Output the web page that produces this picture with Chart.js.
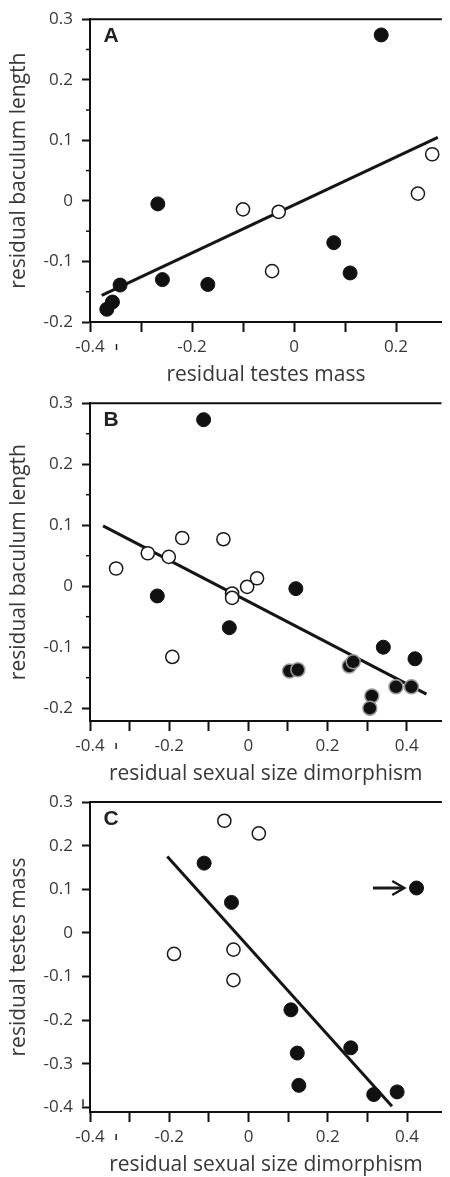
<!DOCTYPE html>
<html><head><meta charset="utf-8">
<script src="https://cdn.jsdelivr.net/npm/chart.js@4.4.1/dist/chart.umd.min.js"></script>
<style>
html,body{margin:0;padding:0;background:#fff;width:450px;height:1177px;overflow:hidden;position:relative}
.c{position:absolute;left:0;width:450px}
</style></head><body>
<div class="c" style="top:0px;height:386px"><canvas id="pa"></canvas></div>
<div class="c" style="top:384px;height:401px"><canvas id="pb"></canvas></div>
<div class="c" style="top:780px;height:396px"><canvas id="pc"></canvas></div>
<script>
// ---------- Panel A ----------
const filledA_x = [0.171, -0.267, -0.341, -0.356, -0.367, -0.258, -0.169, 0.078, 0.110];
const filledA_y = [0.274, -0.005, -0.139, -0.167, -0.179, -0.130, -0.138, -0.069, -0.119];
const openA_x = [-0.100, -0.030, -0.043, 0.243, 0.271];
const openA_y = [-0.014, -0.018, -0.116, 0.012, 0.077];
const fitA_x = [-0.377, 0.282];
const fitA_y = [-0.156, 0.105];
const xTicksA = [-0.4, -0.3, -0.2, -0.1, 0, 0.1, 0.2];
const xLabelsA = ['-0.4', '', '-0.2', '', '0', '', '0.2'];
const yTicksA = [-0.2, -0.1, 0, 0.1, 0.2, 0.3];
const yLabelsA = ['-0.2', '-0.1', '0', '0.1', '0.2', '0.3'];
const yMinorA = [-0.15, -0.05, 0.05, 0.15, 0.25];

// ---------- Panel B ----------
const filledB_x = [-0.113, -0.230, -0.048, 0.120, 0.341, 0.421];
const filledB_y = [0.273, -0.016, -0.068, -0.004, -0.100, -0.119];
const haloB_x = [0.104, 0.125, 0.255, 0.265, 0.373, 0.412, 0.312, 0.307];
const haloB_y = [-0.139, -0.137, -0.131, -0.124, -0.165, -0.165, -0.180, -0.200];
const openB_x = [-0.334, -0.254, -0.201, -0.167, -0.063, -0.192, -0.041, -0.041, -0.003, 0.022];
const openB_y = [0.029, 0.054, 0.048, 0.079, 0.077, -0.116, -0.012, -0.019, -0.001, 0.013];
const fitB_x = [-0.367, 0.450];
const fitB_y = [0.099, -0.177];
const xTicksBC = [-0.4, -0.3, -0.2, -0.1, 0, 0.1, 0.2, 0.3, 0.4];
const xLabelsBC = ['-0.4', '', '-0.2', '', '0', '', '0.2', '', '0.4'];
const yTicksB = [-0.2, -0.1, 0, 0.1, 0.2, 0.3];
const yLabelsB = ['-0.2', '-0.1', '0', '0.1', '0.2', '0.3'];
const yMinorB = [-0.15, -0.05, 0.05, 0.15, 0.25];

// ---------- Panel C ----------
const filledC_x = [-0.112, -0.043, 0.424, 0.107, 0.123, 0.127, 0.258, 0.316, 0.375];
const filledC_y = [0.160, 0.070, 0.103, -0.176, -0.275, -0.349, -0.263, -0.370, -0.364];
const openC_x = [-0.061, 0.026, -0.188, -0.038, -0.038];
const openC_y = [0.257, 0.228, -0.048, -0.038, -0.108];
const fitC_x = [-0.205, 0.362];
const fitC_y = [0.175, -0.397];
const arrowC_x = [0.314, 0.393];
const arrowC_y = [0.103, 0.103];
const yTicksC = [-0.4, -0.3, -0.2, -0.1, 0, 0.1, 0.2, 0.3];
const yLabelsC = ['-0.4', '-0.3', '-0.2', '-0.1', '0', '0.1', '0.2', '0.3'];
const yMinorC = [];

const FONT = "'Open Sans'";
const TXT = '#383838';
const INK = '#111111';

function pts(xs, ys) { return xs.map((x, i) => ({x: x, y: ys[i]})); }

const deco = {
  id: 'deco',
  afterDatasetsDraw(chart, args, o) {
    const {ctx, chartArea: a, scales: {x, y}} = chart;
    ctx.save();
    ctx.strokeStyle = INK; ctx.lineWidth = 2;
    ctx.beginPath(); ctx.moveTo(a.left - 1, a.top); ctx.lineTo(a.right, a.top); ctx.stroke();
    ctx.lineWidth = 1.5;
    (o.minorY || []).forEach(v => {
      const py = y.getPixelForValue(v);
      ctx.beginPath(); ctx.moveTo(a.left - 4, py); ctx.lineTo(a.left, py); ctx.stroke();
    });
    ctx.lineWidth = 1.5; ctx.strokeStyle = '#222';
    (o.stray || []).forEach(v => {
      const px = x.getPixelForValue(v);
      ctx.beginPath(); ctx.moveTo(px, a.bottom + 22); ctx.lineTo(px, a.bottom + 28); ctx.stroke();
    });
    (o.strayY || []).forEach(v => {
      const py = y.getPixelForValue(v);
      ctx.beginPath(); ctx.moveTo(a.left - 7, py - 4); ctx.lineTo(a.left - 7, py + 3); ctx.stroke();
    });
    if (o.arrow) {
      const x0 = x.getPixelForValue(o.arrow.x[0]), y0 = y.getPixelForValue(o.arrow.y[0]);
      const x1 = x.getPixelForValue(o.arrow.x[1]), y1 = y.getPixelForValue(o.arrow.y[1]);
      ctx.strokeStyle = '#1a1a1a'; ctx.lineWidth = 3; ctx.lineCap = 'butt';
      ctx.beginPath(); ctx.moveTo(x0, y0); ctx.lineTo(x1 - 1, y1); ctx.stroke();
      ctx.lineWidth = 2.5;
      ctx.beginPath(); ctx.moveTo(x1 - 12, y1 - 7); ctx.lineTo(x1, y1); ctx.lineTo(x1 - 12, y1 + 7); ctx.stroke();
    }
    ctx.fillStyle = '#222';
    ctx.font = "bold 21px 'Liberation Sans'";
    ctx.textAlign = 'center'; ctx.textBaseline = 'middle';
    ctx.fillText(o.letter, a.left + 21, a.top + 17);
    ctx.restore();
  }
};

function panel(id, p) {
  const datasets = [];
  datasets.push({data: pts(p.openX, p.openY), backgroundColor: '#ffffff', borderColor: '#1a1a1a', borderWidth: 1.5, pointRadius: 6.6});
  if (p.haloX) datasets.push({data: pts(p.haloX, p.haloY), backgroundColor: INK, borderColor: '#9a9a9a', borderWidth: 1.5, pointRadius: 7});
  datasets.push({data: pts(p.filledX, p.filledY), backgroundColor: INK, borderColor: INK, borderWidth: 1, pointRadius: 7});
  datasets.push({data: pts(p.fitX, p.fitY), showLine: true, borderColor: '#151515', borderWidth: 3, pointRadius: 0, fill: false});
  new Chart(document.getElementById(id), {
    type: 'scatter',
    data: {datasets},
    plugins: [deco],
    options: {
      responsive: true, maintainAspectRatio: false, animation: false,
      events: [],
      layout: {padding: {top: p.padTop, right: 2, left: 0, bottom: 0}},
      plugins: {legend: {display: false}, tooltip: {enabled: false},
        deco: {letter: p.letter, minorY: p.minorY, stray: p.stray, strayY: p.strayY, arrow: p.arrow}},
      scales: {
        x: {
          type: 'linear', position: 'bottom', min: p.xMin, max: p.xMax,
          afterBuildTicks: s => { s.ticks = p.xTicks.map(v => ({value: v})); },
          afterFit: s => { s.height = 64; },
          ticks: {callback: (v, i) => p.xLabels[i], autoSkip: false, maxRotation: 0, includeBounds: false,
                  font: {family: FONT, size: 17}, color: TXT, padding: 5},
          grid: {drawOnChartArea: false, drawTicks: true, tickLength: 10, tickWidth: 2, tickColor: INK},
          border: {display: true, color: INK, width: 2},
          title: {display: true, text: p.xTitle, color: TXT, font: {family: FONT, size: 21, lineHeight: 1}, padding: 0}
        },
        y: {
          type: 'linear', position: 'left', min: p.yMin, max: p.yMax,
          afterBuildTicks: s => { s.ticks = p.yTicks.map(v => ({value: v})); },
          afterFit: s => { s.width = 90; },
          ticks: {callback: (v, i) => p.yLabels[i], autoSkip: false, includeBounds: false,
                  font: {family: FONT, size: 17}, color: TXT, padding: 9},
          grid: {drawOnChartArea: false, drawTicks: true, tickLength: 8, tickWidth: 2, tickColor: INK},
          border: {display: true, color: INK, width: 2},
          title: {display: true, text: p.yTitle, color: TXT, font: {family: FONT, size: 21, lineHeight: 1}, padding: {top: 9, bottom: 0}}
        }
      }
    }
  });
}

panel('pa', {letter: 'A', padTop: 16,
  filledX: filledA_x, filledY: filledA_y, openX: openA_x, openY: openA_y, fitX: fitA_x, fitY: fitA_y,
  xMin: -0.4, xMax: 0.29, yMin: -0.2, yMax: 0.3,
  xTicks: xTicksA, xLabels: xLabelsA, yTicks: yTicksA, yLabels: yLabelsA, minorY: yMinorA,
  stray: [-0.348],
  xTitle: 'residual testes mass', yTitle: 'residual baculum length'});

panel('pb', {letter: 'B', padTop: 19,
  filledX: filledB_x, filledY: filledB_y, haloX: haloB_x, haloY: haloB_y, openX: openB_x, openY: openB_y, fitX: fitB_x, fitY: fitB_y,
  xMin: -0.4, xMax: 0.488, yMin: -0.221, yMax: 0.3,
  xTicks: xTicksBC, xLabels: xLabelsBC, yTicks: yTicksB, yLabels: yLabelsB, minorY: yMinorB,
  stray: [-0.334],
  xTitle: 'residual sexual size dimorphism', yTitle: 'residual baculum length'});

panel('pc', {letter: 'C', padTop: 22,
  filledX: filledC_x, filledY: filledC_y, openX: openC_x, openY: openC_y, fitX: fitC_x, fitY: fitC_y,
  xMin: -0.4, xMax: 0.488, yMin: -0.41, yMax: 0.3,
  xTicks: xTicksBC, xLabels: xLabelsBC, yTicks: yTicksC, yLabels: yLabelsC, minorY: yMinorC,
  stray: [-0.334], strayY: [-0.39],
  arrow: {x: arrowC_x, y: arrowC_y},
  xTitle: 'residual sexual size dimorphism', yTitle: 'residual testes mass'});
</script>
</body></html>
